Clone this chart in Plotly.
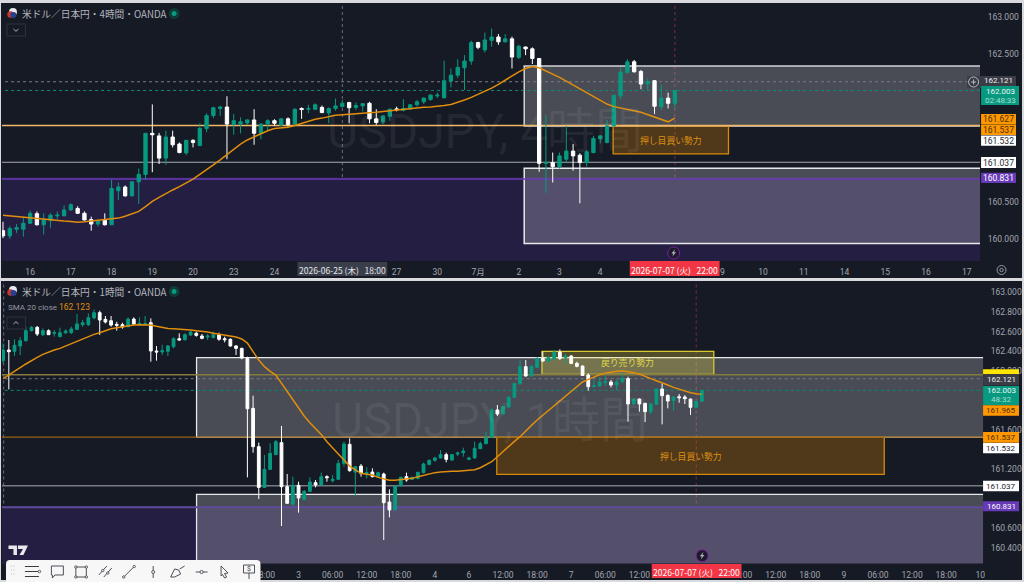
import plotly.graph_objects as go

# ---------- 4 hour panel ----------
top_open = [160.11,160.04,160.13,160.13,160.21,160.34,160.19,160.25,160.31,160.31,
160.39,160.41,160.345,160.26,160.20,160.25,160.19,160.65,160.70,160.58,
160.77,160.87,161.425,161.39,161.09,161.375,161.28,161.16,161.33,161.26,
161.49,161.665,161.76,161.78,161.545,161.55,161.565,161.605,161.425,161.55,
161.595,161.535,161.62,161.55,161.76,161.75,161.75,161.775,161.70,161.76,
161.785,161.84,161.775,161.795,161.83,161.62,161.58,161.655,161.755,161.735,
161.755,161.81,161.85,161.88,161.93,161.905,162.13,162.21,162.31,162.40,
162.65,162.55,162.68,162.725,162.66,162.70,162.45,162.59,162.565,162.435,
161.02,161.03,160.975,161.075,161.185,161.13,161.03,161.165,161.35,161.30,
161.525,161.93,162.245,162.39,162.26,162.095,162.135,161.785,161.90,161.83]
top_high = [160.23,160.17,160.20,160.28,160.38,160.37,160.345,160.345,160.37,160.45,
160.48,160.44,160.37,160.30,160.26,160.345,160.795,160.76,160.72,160.77,
160.95,161.43,161.815,161.43,161.46,161.46,161.30,161.335,161.345,161.56,
161.695,161.785,161.795,161.925,161.685,161.64,161.615,161.75,161.56,161.615,
161.615,161.63,161.64,161.76,161.775,161.81,161.83,161.80,161.775,161.895,
161.875,161.85,161.84,161.83,161.85,161.75,161.67,161.76,161.785,161.885,
161.82,161.875,161.91,161.955,161.975,162.405,162.30,162.425,162.48,162.675,
162.66,162.785,162.84,162.765,162.765,162.73,162.62,162.595,162.585,162.44,
161.67,161.165,161.165,161.525,161.28,161.155,161.2,161.39,161.40,161.605,
161.94,162.315,162.425,162.415,162.28,162.165,162.145,162.08,161.975,162.0]
top_low = [160.01,160.00,160.08,160.03,160.20,160.18,160.06,160.15,160.27,160.31,
160.38,160.335,160.25,160.11,160.165,160.18,160.19,160.525,160.57,160.58,
160.47,160.805,160.90,161.01,161.0,161.235,161.155,161.13,161.235,161.25,
161.44,161.63,161.66,161.075,161.405,161.425,161.54,161.27,161.345,161.46,
161.525,161.525,161.515,161.53,161.62,161.695,161.74,161.695,161.56,161.73,
161.775,161.56,161.74,161.72,161.56,161.54,161.55,161.595,161.72,161.72,
161.74,161.785,161.82,161.865,161.90,161.895,162.045,162.17,162.01,162.35,
162.56,162.515,162.595,162.62,162.65,162.30,162.425,162.48,162.36,160.905,
160.62,160.76,160.95,161.02,160.92,160.48,160.975,161.155,161.29,161.29,
161.515,161.885,162.235,162.245,162.02,162.01,161.685,161.74,161.76,161.76]
top_close = [160.04,160.14,160.15,160.21,160.345,160.19,160.26,160.32,160.32,160.39,
160.46,160.345,160.255,160.20,160.24,160.19,160.68,160.70,160.58,160.77,
160.87,161.425,161.405,161.09,161.375,161.27,161.165,161.33,161.30,161.49,
161.665,161.77,161.78,161.55,161.595,161.58,161.605,161.425,161.55,161.595,
161.56,161.62,161.545,161.75,161.745,161.76,161.81,161.705,161.76,161.795,
161.83,161.77,161.80,161.825,161.62,161.57,161.66,161.75,161.745,161.76,
161.81,161.85,161.90,161.94,161.94,162.135,162.21,162.315,162.40,162.65,
162.585,162.685,162.725,162.66,162.70,162.455,162.60,162.565,162.435,161.02,
161.03,160.975,161.12,161.185,161.12,161.03,161.175,161.355,161.39,161.525,
161.94,162.25,162.39,162.255,162.09,162.125,161.79,161.90,161.83,162.0]
top_sma = [160.32,160.31,160.30,160.29,160.285,160.28,160.27,160.26,160.25,160.24,
160.235,160.225,160.23,160.24,160.245,160.25,160.26,160.28,160.305,160.335,
160.37,160.435,160.505,160.56,160.615,160.66,160.705,160.755,160.805,160.87,
160.93,161.0,161.065,161.14,161.215,161.28,161.335,161.38,161.425,161.46,
161.49,161.495,161.505,161.53,161.56,161.585,161.615,161.63,161.65,161.67,
161.675,161.68,161.685,161.695,161.70,161.71,161.72,161.73,161.745,161.755,
161.76,161.77,161.775,161.78,161.785,161.80,161.815,161.84,161.875,161.91,
161.95,161.995,162.035,162.085,162.145,162.2,162.255,162.30,162.325,162.31,
162.27,162.225,162.18,162.13,162.08,162.03,161.975,161.92,161.87,161.82,
161.785,161.77,161.75,161.73,161.71,161.675,161.65,161.615,161.58,161.63]
top_tick_pos = [4,10,16,22,28,34,40,58,64,70,76,82,88,106,112,118,124,130,136,142]
top_tick_txt = ["16","17","18","19","20","23","24","27","30","7月","2","3","4","9","10","11","14","15","16","17"]
top_price_ticks = [163.0,162.5,160.5,160.0]

# ---------- 1 hour panel ----------
bot_open = [162.305,162.413,162.40,162.454,162.508,162.61,162.644,162.569,162.61,162.583,
162.549,162.589,162.589,162.623,162.671,162.671,162.739,162.793,162.725,162.711,
162.674,162.671,162.65,162.728,162.674,162.674,162.691,162.403,162.393,162.40,
162.447,162.528,162.518,162.566,162.583,162.556,162.545,162.539,162.566,162.528,
162.522,162.454,162.43,162.328,161.82,161.43,161.016,161.199,161.349,161.471,
161.023,160.847,161.037,160.894,160.976,161.064,161.04,161.125,161.084,161.098,
161.26,161.454,161.172,161.233,161.159,161.172,161.125,161.152,160.867,160.786,
161.03,161.125,161.098,161.108,161.166,161.25,161.291,161.315,161.349,161.294,
161.355,161.369,161.301,161.315,161.41,161.461,161.525,161.803,161.762,161.833,
161.932,162.071,162.244,162.149,162.237,162.328,162.298,162.322,162.393,162.338,
162.352,162.277,162.25,162.159,162.04,162.047,162.081,162.088,162.057,162.091,
162.122,161.864,161.914,161.871,161.786,161.86,162.016,161.952,161.898,161.938,
161.935,161.914,161.83,161.891]
bot_high = [162.48,162.515,162.522,162.542,162.65,162.657,162.657,162.633,162.623,162.616,
162.64,162.623,162.65,162.78,162.718,162.786,162.827,162.813,162.759,162.759,
162.701,162.691,162.745,162.745,162.745,162.759,162.735,162.454,162.467,162.464,
162.542,162.583,162.583,162.61,162.6,162.576,162.576,162.6,162.589,162.549,
162.532,162.464,162.437,162.345,161.949,161.471,161.345,161.464,161.498,161.641,
161.152,161.125,161.074,160.989,161.118,161.091,161.166,161.139,161.142,161.294,
161.481,161.515,161.227,161.254,161.22,161.21,161.176,161.166,160.996,161.03,
161.125,161.166,161.125,161.176,161.267,161.301,161.328,161.396,161.369,161.356,
161.379,161.42,161.328,161.481,161.481,161.583,161.82,161.854,161.844,161.945,
162.081,162.311,162.311,162.261,162.339,162.396,162.352,162.413,162.42,162.372,
162.362,162.294,162.257,162.176,162.108,162.135,162.159,162.108,162.115,162.176,
162.142,161.921,161.921,161.877,161.871,162.023,162.074,161.962,161.938,161.966,
161.955,161.921,161.898,162.006]
bot_low = [162.28,162.013,162.352,162.362,162.498,162.60,162.556,162.556,162.566,162.549,
162.542,162.576,162.576,162.616,162.65,162.657,162.725,162.566,162.684,162.65,
162.61,162.63,162.644,162.667,162.667,162.667,162.294,162.305,162.362,162.352,
162.43,162.508,162.508,162.556,162.549,162.522,162.515,162.532,162.508,162.491,
162.447,162.362,162.318,161.118,161.369,160.898,161.016,161.193,161.345,160.623,
160.85,160.827,160.759,160.887,160.972,161.016,161.04,161.074,161.067,161.091,
161.227,161.176,160.928,161.125,161.108,161.118,161.118,160.481,160.711,160.786,
161.023,161.074,161.091,161.098,161.159,161.24,161.277,161.311,161.271,161.288,
161.335,161.328,161.294,161.308,161.403,161.454,161.525,161.742,161.762,161.83,
161.925,162.057,162.142,162.142,162.237,162.294,162.294,162.318,162.311,162.271,
162.271,162.237,162.149,162.0,162.033,162.04,162.047,162.033,162.006,162.081,
161.684,161.854,161.786,161.68,161.759,161.854,161.657,161.82,161.796,161.877,
161.864,161.752,161.82,161.888]
bot_close = [162.413,162.396,162.461,162.508,162.61,162.644,162.576,162.61,162.569,162.589,
162.589,162.606,162.627,162.678,162.691,162.742,162.793,162.718,162.698,162.667,
162.664,162.647,162.728,162.677,162.684,162.681,162.403,162.393,162.406,162.454,
162.528,162.515,162.569,162.596,162.562,162.532,162.556,162.569,162.522,162.518,
162.454,162.43,162.332,161.816,161.43,161.016,161.199,161.362,161.481,161.023,
160.854,161.037,160.908,160.976,161.071,161.04,161.125,161.115,161.098,161.26,
161.457,161.186,161.227,161.159,161.166,161.125,161.166,160.86,160.786,161.03,
161.118,161.091,161.118,161.169,161.254,161.291,161.315,161.349,161.301,161.349,
161.366,161.386,161.315,161.413,161.461,161.522,161.803,161.762,161.837,161.932,
162.071,162.244,162.149,162.244,162.328,162.301,162.338,162.393,162.328,162.352,
162.277,162.247,162.155,162.04,162.05,162.088,162.091,162.057,162.088,162.125,
161.864,161.911,161.864,161.786,161.864,162.016,161.949,161.894,161.935,161.928,
161.918,161.83,161.891,162.0]
bot_sma = [162.122,162.162,162.2,162.233,162.271,162.308,162.339,162.369,162.393,162.413,
162.43,162.454,162.477,162.498,162.522,162.549,162.572,162.589,162.613,162.63,
162.64,162.65,162.661,162.667,162.671,162.671,162.667,162.654,162.64,162.633,
162.63,162.627,162.62,162.616,162.61,162.606,162.596,162.583,162.572,162.566,
162.556,162.545,162.525,162.484,162.396,162.311,162.244,162.196,162.159,162.074,
161.99,161.905,161.823,161.742,161.674,161.616,161.555,161.481,161.413,161.355,
161.294,161.233,161.193,161.159,161.149,161.142,161.118,161.101,161.088,161.088,
161.094,161.101,161.108,161.125,161.138,161.155,161.166,161.172,161.179,161.179,
161.179,161.186,161.189,161.196,161.216,161.243,161.277,161.328,161.382,161.43,
161.484,161.532,161.593,161.647,161.701,161.749,161.796,161.844,161.891,161.945,
161.99,162.04,162.088,162.115,162.142,162.162,162.176,162.189,162.196,162.203,
162.196,162.183,162.169,162.142,162.122,162.101,162.081,162.057,162.033,162.013,
161.993,161.979,161.969,161.962]
bot_tick_pos = [46,52,58,64,70,76,82,88,94,100,106,112,130,136,142,148,154,160,166,172]
bot_tick_txt = ["18:00","3","06:00","12:00","18:00","4","6","12:00","18:00","7","06:00","12:00",
                "06:00","12:00","18:00","9","06:00","12:00","18:00","10"]
bot_price_ticks = [163.0,162.8,162.6,162.4,162.2,161.6,161.2,160.6,160.4]

GREEN, WHITE = "#089981", "#ffffff"
BG, FRAME = "#161a25", "#d8dade"
ORANGE = "#e08e0b"
TXT = "#a3a6af"
FONT = "Roboto, 'Noto Sans CJK JP', sans-serif"
JP = "'Noto Sans CJK JP', Roboto, sans-serif"
FINE_DASH = "3px,3px"

W, H = 1024, 582
X = lambda v: v / W
Y = lambda v: 1 - v / H

shapes, notes = [], []

def rect(x0, y0, x1, y1, fill, line=None, lw=0, layer="above"):
    shapes.append(dict(type="rect", xref="paper", yref="paper", x0=X(x0), x1=X(x1), y0=Y(y0), y1=Y(y1),
                       fillcolor=fill, line=dict(color=line or "rgba(0,0,0,0)", width=lw), layer=layer))

def circ(cx, cy, r, fill="rgba(0,0,0,0)", line=None, lw=0):
    shapes.append(dict(type="circle", xref="paper", yref="paper", x0=X(cx - r), x1=X(cx + r), y0=Y(cy - r), y1=Y(cy + r),
                       fillcolor=fill, line=dict(color=line or "rgba(0,0,0,0)", width=lw), layer="above"))

def path(pts, color="#3a3d46", lw=1, fill=None, closed=False):
    d = "M" + " L".join(f"{X(a):.5f},{Y(b):.5f}" for a, b in pts) + (" Z" if closed else "")
    shapes.append(dict(type="path", xref="paper", yref="paper", path=d, fillcolor=fill or "rgba(0,0,0,0)",
                       line=dict(color=color if lw else "rgba(0,0,0,0)", width=lw), layer="above"))

def text(x, y, s, size=8.5, color=TXT, anchor="center", family=FONT, op=1):
    notes.append(dict(xref="paper", yref="paper", x=X(x), y=Y(y), text=s, showarrow=False, xanchor=anchor, yanchor="middle",
                      font=dict(size=size, color=color, family=family), opacity=op))

def zone(ax, x0, x1, p0, p1, fill, line=None, lw=0):
    shapes.append(dict(type="rect", xref="x" + ax, yref="y" + ax, x0=x0, x1=x1, y0=p0, y1=p1,
                       fillcolor=fill, line=dict(color=line or "rgba(0,0,0,0)", width=lw), layer="below"))

def hline(ax, p, color, lw=1, dash="solid", x0=-5, x1=200):
    shapes.append(dict(type="line", xref="x" + ax, yref="y" + ax, x0=x0, x1=x1, y0=p, y1=p,
                       line=dict(color=color, width=lw, dash=dash), layer="below"))

def vline(ax, i, color, dash=FINE_DASH, lw=1):
    shapes.append(dict(type="line", xref="x" + ax, yref="y domain" if not ax else f"y{ax} domain", x0=i, x1=i, y0=0, y1=1,
                       line=dict(color=color, width=lw, dash=dash), layer="below"))

# panel backgrounds
rect(1, 3, 1024, 278, BG, layer="below")
rect(1, 281, 1024, 580, BG, layer="below")

GREY_FILL = "rgba(255,255,255,0.22)"
PURPLE_ZONE = "rgb(36,30,66)"
# 4h panel objects
zone("", -5, 200, 158, 160.83, PURPLE_ZONE)
zone("", 76.8, 200, 161.525, 162.334, GREY_FILL, "#d0d2d6", 1.5)
zone("", 76.8, 200, 159.936, 160.952, GREY_FILL, "#e8e9ec", 1.5)
zone("", 89.9, 106.9, 161.146, 161.525, "rgba(255,152,0,0.25)", "#d98a05", 1.3)
hline("", 162.121, "#787b86", 1, FINE_DASH)
hline("", 162.003, "#0b8b78", 1, "dot")
hline("", 161.53, "#f2b765", 1.4)
hline("", 161.034, "#a8aab0", 1.2)
hline("", 160.808, "#673ab7", 1.4)
vline("", 50, "#6a6e7a")
vline("", 99, "#7a2f3b")
# 1h panel objects
zone("2", -5, 200, 158, 160.825, PURPLE_ZONE)
zone("2", 34.05, 200, 161.525, 162.335, GREY_FILL, "#e8e9ec", 1.3)
zone("2", 34.05, 200, 159.8, 160.945, GREY_FILL, "#e8e9ec", 1.3)
zone("2", 86.9, 155.1, 161.149, 161.525, "rgba(255,152,0,0.25)", "#d98a05", 1.3)
zone("2", 94.85, 125.1, 162.166, 162.4, "rgba(255,235,59,0.25)", "#d9c92e", 1.3)
hline("2", 162.121, "#787b86", 1, FINE_DASH)
hline("2", 162.003, "#0b8b78", 1, "dot")
hline("2", 162.162, "#857b3e", 1.5)
hline("2", 161.527, "#9a6414", 1.3)
hline("2", 161.033, "#787b86", 1.4)
hline("2", 160.815, "#5f4b9b", 2)
vline("2", 0.1, "#6a6e7a")
vline("2", 122, "#7a2f3b")

# watermarks and titles
text(486, 132, "USDJPY, 4時間", 48, "rgba(255,255,255,0.07)")
text(491, 420, "USDJPY, 1時間", 48, "rgba(255,255,255,0.07)")
text(672, 140, "押し目買い勢力", 8.8, "#dd9012", family=JP)
text(692, 456, "押し目買い勢力", 8.8, "#dd9012", family=JP)
text(629, 362.5, "戻り売り勢力", 8.8, "#e3d64a", family=JP)
text(20, 14, "米ドル／日本円・4時間・OANDA", 9.7, "#b2b5be", "left", JP)
text(20, 292, "米ドル／日本円・1時間・OANDA", 9.7, "#b2b5be", "left", JP)
text(6, 307, "SMA 20 close", 8, "#9598a1", "left")
text(57, 307, "162.123", 8.5, "#e08e0b", "left")

for cy in (13.5, 291.5):
    circ(174.5, cy, 5.5, "#103a36")
    circ(174.5, cy, 2.5, "#089981")
    circ(13, cy - 1.5, 4, "#e8eaf0")
    circ(10.5, cy + 1, 3.2, "#c8372f")
    circ(13.5, cy + 1.5, 3, "#26408f")

# chevrons
rect(7, 24, 25.5, 36, "rgba(0,0,0,0)", "#2f3340", 1)
path([(13.5, 29), (16, 31.3), (18.5, 29)], "#b2b5be", 1)
rect(7, 317, 25.5, 329, "rgba(0,0,0,0)", "#2f3340", 1)
path([(13.5, 324), (16, 321.7), (18.5, 324)], "#b2b5be", 1)

# crosshair time labels
rect(298, 262, 388, 276, "#3a3e4a")
text(343, 269.5, "2026-06-25 (木)   18:00", 8.5, "#e6e7ea", family=JP)
rect(631, 261, 721, 276, "#f23645")
text(676, 269.5, "2026-07-07 (火)   22:00", 8.5, "#ffffff", family=JP)
rect(653, 564, 743, 578, "#f23645")
text(698, 571.5, "2026-07-07 (火)   22:00", 8.5, "#ffffff", family=JP)

# right hand price labels
def plabel(x0, x1, y0, y1, s, fill, color, size=8.5):
    rect(x0, y0, x1, y1, fill)
    text((x0 + x1) / 2, (y0 + y1) / 2, s, size, color)

plabel(983, 1018, 114, 124.5, "161.627", "#ff9800", "#4a2d00")
plabel(983, 1018, 124.7, 135, "161.537", "#ff9800", "#4a2d00")
plabel(983, 1018, 135.5, 145.7, "161.532", "#ffffff", "#222631")
plabel(983, 1018, 157, 168, "161.037", "#ffffff", "#222631")
plabel(983, 1018, 172.7, 183, "160.831", "#673ab7", "#ffffff")
rect(983, 86, 1021, 105, "#089981")
text(1002, 91.3, "162.003", 8, "#e8f5f2")
text(1002, 100, "02:48:33", 8, "#a6dcd0")
plabel(983, 1018, 76, 86, "162.121", "#3a3d46", "#f0f1f3", 8)
rect(969, 76, 983, 88, "#3a3d46")
circ(975.5, 82, 5, "rgba(0,0,0,0)", "#d1d4dc", 0.8)
path([(973, 82), (978, 82)], "#d1d4dc", 0.8)
path([(975.5, 79.5), (975.5, 84.5)], "#d1d4dc", 0.8)

rect(985, 369.3, 1021, 374, "#ffe600")
rect(985, 386, 1021, 405.3, "#089981")
text(1003, 391, "162.003", 8, "#e8f5f2")
text(1003, 399.5, "48:32", 8, "#a6dcd0")
plabel(985, 1021, 374, 385.5, "162.121", "#3a3d46", "#f0f1f3", 8)
plabel(985, 1021, 405.3, 415.7, "161.965", "#ff9800", "#4a2d00", 8)
plabel(985, 1021, 432, 442.7, "161.537", "#ff9800", "#4a2d00", 8)
plabel(985, 1021, 443, 453.3, "161.532", "#ffffff", "#222631", 8)
plabel(985, 1021, 480.7, 491.3, "161.037", "#ffffff", "#222631", 8)
plabel(985, 1021, 501.3, 511.3, "160.831", "#673ab7", "#ffffff", 8)

# gear
circ(1003.5, 270, 4.5, "rgba(0,0,0,0)", "#9598a1", 1)
circ(1003.5, 270, 1.7, "rgba(0,0,0,0)", "#9598a1", 1)

# lightning markers
for cx, cy in ((675, 253), (703.5, 555.7)):
    circ(cx, cy, 6, "#1d1a2c", "#7b1fa2", 1)
    path([(cx + 1.4, cy - 3.8), (cx - 2.3, cy + 0.6), (cx - 0.3, cy + 0.6), (cx - 1.4, cy + 3.8),
          (cx + 2.3, cy - 0.8), (cx + 0.3, cy - 0.8)], "#b2b5be", 0, "#b2b5be", True)

# TV logo
path([(8.5, 545.5), (17, 545.5), (17, 555), (13.5, 555), (13.5, 549), (8.5, 549)], "#e8e9ec", 0, "#e8e9ec", True)
path([(18, 545.5), (28, 545.5), (23.5, 555), (19.5, 555), (23, 549), (18, 549)], "#e8e9ec", 0, "#e8e9ec", True)

# drawing toolbar
shapes.append(dict(type="path", xref="paper", yref="paper", layer="above", fillcolor="#f7f7f8",
                   line=dict(color="rgba(0,0,0,0)", width=0),
                   path=f"M{X(6)},{Y(582)} L{X(6)},{Y(564)} Q{X(6)},{Y(560)} {X(10)},{Y(560)} L{X(257)},{Y(560)} "
                        f"Q{X(261)},{Y(560)} {X(261)},{Y(564)} L{X(261)},{Y(582)} Z"))
IC = "#3a3d46"
for gy in (566, 570, 574):
    for gx in (11.5, 14):
        circ(gx, gy, 0.6, "#b0b3ba")
for oy in (566.5, 571.5, 576.5):
    path([(25, oy), (39, oy)], IC, 1)
circ(39.5, 571.5, 1.3, "#f7f7f8", IC, 0.8)
path([(51.5, 566), (63.5, 566), (63.5, 575), (55, 575), (52.5, 578), (52.5, 575), (51.5, 575)], IC, 0.9, closed=True)
rect(76, 567, 86.5, 577, "rgba(0,0,0,0)", IC, 0.9)
for a, b in ((76, 567), (86.5, 567), (76, 577), (86.5, 577)):
    circ(a, b, 1.2, "#f7f7f8", IC, 0.8)
path([(99, 575), (107, 566)], IC, 0.9)
path([(104, 577), (112, 568)], IC, 0.9)
circ(103, 570.5, 1.2, "#f7f7f8", IC, 0.8)
circ(108, 573, 1.2, "#f7f7f8", IC, 0.8)
path([(123, 578), (135, 566)], IC, 0.9)
circ(124, 577, 1.2, "#f7f7f8", IC, 0.8)
circ(134.5, 566.5, 1.2, "#f7f7f8", IC, 0.8)
path([(153.5, 566), (153.5, 578)], IC, 0.9)
circ(153.5, 572, 1.5, "#f7f7f8", IC, 0.8)
path([(171, 577), (175, 569), (179, 570), (181, 574), (175, 577), (171, 577)], IC, 0.9)
path([(180, 569), (185, 566)], IC, 0.9)
path([(196, 572), (208, 572)], IC, 0.9)
circ(202, 572, 1.6, "#f7f7f8", IC, 0.8)
path([(221.5, 566), (228.5, 573), (225, 573.5), (227, 577), (225, 578), (223, 574.5), (221.5, 576)], IC, 0.9, closed=True)
rect(244, 565, 255, 573, "rgba(0,0,0,0)", IC, 0.9)
path([(249.5, 573), (249.5, 579)], IC, 0.9)
text(249.5, 569, "$", 7, IC)

def sticks(o, h, l, c, xa, ya):
    return go.Candlestick(x=list(range(len(o))), open=o, high=h, low=l, close=c, xaxis=xa, yaxis=ya, whiskerwidth=0,
                          increasing=dict(line=dict(color=GREEN, width=1), fillcolor=GREEN),
                          decreasing=dict(line=dict(color=WHITE, width=1), fillcolor=WHITE),
                          showlegend=False, hoverinfo="skip")

def sma(v, xa, ya):
    return go.Scatter(x=list(range(len(v))), y=v, xaxis=xa, yaxis=ya, mode="lines", showlegend=False,
                      line=dict(color=ORANGE, width=1.5), hoverinfo="skip")

fig = go.Figure([
    sticks(top_open, top_high, top_low, top_close, "x", "y"),
    sma(top_sma, "x", "y"),
    sticks(bot_open, bot_high, bot_low, bot_close, "x2", "y2"),
    sma(bot_sma, "x2", "y2"),
])

tick_font = dict(family=FONT, size=8.5, color=TXT)
xcommon = dict(showgrid=False, zeroline=False, showline=False, ticks="outside", ticklen=3,
               tickcolor="rgba(0,0,0,0)", tickfont=tick_font, tickangle=0, rangeslider=dict(visible=False), fixedrange=True)
ycommon = dict(showgrid=False, zeroline=False, showline=False, side="right", ticks="outside", ticklen=5,
               tickcolor="rgba(0,0,0,0)", tickfont=tick_font, fixedrange=True)

fig.update_layout(
    width=W, height=H, margin=dict(l=0, r=0, t=0, b=0, pad=0), autosize=False,
    paper_bgcolor=FRAME, plot_bgcolor=BG, boxgap=0.3, showlegend=False,
    shapes=shapes, annotations=notes,
    xaxis=dict(domain=[X(2), X(982)], range=[-0.147, 143.97], anchor="y", tickmode="array",
               tickvals=top_tick_pos, ticktext=top_tick_txt, **xcommon),
    yaxis=dict(domain=[Y(261), Y(3)], range=[159.701, 163.184], anchor="x", tickmode="array",
               tickvals=top_price_ticks, ticktext=[f"{p:.3f}" for p in top_price_ticks], **ycommon),
    xaxis2=dict(domain=[X(2), X(985)], range=[-0.2, 172.5], anchor="y2", tickmode="array",
                tickvals=bot_tick_pos, ticktext=bot_tick_txt, **xcommon),
    yaxis2=dict(domain=[Y(563.5), Y(281)], range=[160.242, 163.115], anchor="x2", tickmode="array",
                tickvals=bot_price_ticks, ticktext=[f"{p:.3f}" for p in bot_price_ticks], **ycommon),
)

fig.write_html("out.html", config=dict(displayModeBar=False),
               post_script="document.body.style.margin='0';document.documentElement.style.overflow='hidden';")
